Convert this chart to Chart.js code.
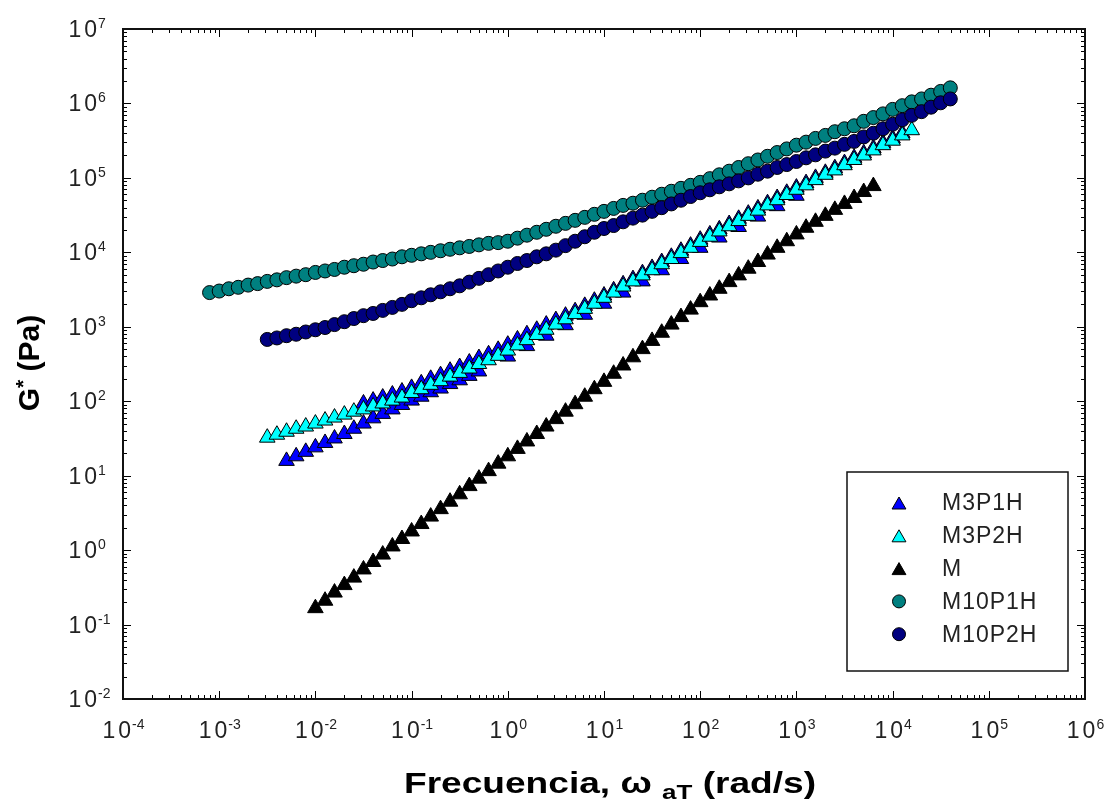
<!DOCTYPE html>
<html>
<head>
<meta charset="utf-8">
<script src="https://cdn.jsdelivr.net/npm/chart.js@4.4.1/dist/chart.umd.min.js"></script>
<style>
  html, body { margin: 0; padding: 0; background: #ffffff; }
  #wrap { width: 1106px; height: 802px; position: relative; }
  canvas { display: block; }
</style>
</head>
<body>
<div id="wrap"><canvas id="c" width="1106" height="802"></canvas></div>
<script>
// ---------------- DATA ----------------
const seriesNames = ['M3P1H', 'M3P2H', 'M', 'M10P1H', 'M10P2H'];
const xTickValues = [1e-4, 1e-3, 1e-2, 1e-1, 1e0, 1e1, 1e2, 1e3, 1e4, 1e5, 1e6];
const yTickValues = [1e-2, 1e-1, 1e0, 1e1, 1e2, 1e3, 1e4, 1e5, 1e6, 1e7];
const xAxisTitle = ['Frecuencia, ', '\u03C9', ' ', 'aT', ' (rad/s)'];
const yAxisTitle = ['G', '*', ' (Pa)'];

// M3P1H (overlapping shifted segments)
const freq_M3P1H = [
  5.01e-3, 6.31e-3, 7.94e-3, 1.00e-2, 1.26e-2, 1.58e-2, 2.00e-2, 2.51e-2, 3.16e-2, 3.98e-2,
  5.01e-2, 6.31e-2, 7.94e-2, 0.100, 0.126, 0.158, 0.200, 0.251, 0.316, 0.398, 0.501,
  3.16e-2, 3.98e-2, 5.01e-2, 6.31e-2, 7.94e-2,
  0.100, 0.126, 0.158, 0.200, 0.251, 0.316, 0.398, 0.501, 0.631, 0.794,
  1.00, 1.26, 1.58, 2.00, 2.51, 3.16, 3.98, 5.01, 6.31, 7.94,
  10.0, 12.6, 15.8, 20.0, 25.1, 31.6, 39.8, 50.1, 63.1, 79.4,
  100, 126, 158, 200, 251, 316, 398, 501, 631, 794,
  1000, 1260, 1580, 2000, 2510, 3160, 3980, 5010, 6310, 7940,
  10000, 12600,
  1.00, 1.58, 2.51, 3.98, 6.31, 10.0, 15.8, 25.1, 39.8, 63.1,
  100, 158, 251, 398, 631, 1000
];
const gstar_M3P1H = [
  15.8, 18.2, 20.9, 24.0, 27.5, 31.6, 36.3, 42.7, 50.1, 58.9,
  67.6, 77.6, 89.1, 102, 115, 132, 148, 170, 191, 219, 251,
  93.3, 102, 112, 123, 135,
  151, 174, 200, 224, 257, 288, 331, 380, 427, 490,
  575, 676, 794, 912, 1070, 1230, 1410, 1620, 1910, 2240,
  2630, 3090, 3720, 4370, 5250, 6170, 7410, 8710, 10500, 12300,
  14800, 17400, 20400, 24000, 28200, 33100, 38900, 45700, 53700, 63100,
  74100, 85100, 1.00e5, 1.17e5, 1.35e5, 1.58e5, 1.86e5, 2.14e5, 2.51e5, 2.95e5,
  3.39e5, 3.98e5,
  398, 550, 759, 1050, 1450, 2040, 2880, 4070, 5750, 8130,
  11500, 15800, 21900, 30200, 41700, 57500
];

// M3P2H
const freq_M3P2H = [
  3.16e-3, 3.98e-3, 5.01e-3, 6.31e-3, 7.94e-3,
  1.00e-2, 1.26e-2, 1.58e-2, 2.00e-2, 2.51e-2, 3.16e-2, 3.98e-2, 5.01e-2, 6.31e-2, 7.94e-2,
  0.100, 0.126, 0.158, 0.200, 0.251, 0.316, 0.398, 0.501, 0.631, 0.794,
  1.00, 1.26, 1.58, 2.00, 2.51, 3.16, 3.98, 5.01, 6.31, 7.94,
  10.0, 12.6, 15.8, 20.0, 25.1, 31.6, 39.8, 50.1, 63.1, 79.4,
  100, 126, 158, 200, 251, 316, 398, 501, 631, 794,
  1000, 1260, 1580, 2000, 2510, 3160, 3980, 5010, 6310, 7940,
  10000, 12600, 15800
];
const gstar_M3P2H = [
  32.4, 35.5, 38.9, 42.7, 45.7,
  50.1, 55.0, 60.3, 66.1, 72.4, 77.6, 85.1, 93.3, 102, 112,
  129, 145, 166, 186, 214, 240, 275, 316, 355, 407,
  479, 562, 661, 776, 912, 1070, 1260, 1480, 1740, 2040,
  2450, 2880, 3470, 4070, 4900, 5750, 6920, 8130, 9770, 11500,
  13800, 16200, 19100, 22400, 26300, 30900, 36300, 42700, 50100, 58900,
  69200, 79400, 93300, 1.10e5, 1.26e5, 1.48e5, 1.74e5, 2.00e5, 2.34e5, 2.75e5,
  3.16e5, 3.72e5, 4.37e5
];

// M
const freq_M = [
  1.00e-2, 1.26e-2, 1.58e-2, 2.00e-2, 2.51e-2, 3.16e-2, 3.98e-2, 5.01e-2, 6.31e-2, 7.94e-2,
  0.100, 0.126, 0.158, 0.200, 0.251, 0.316, 0.398, 0.501, 0.631, 0.794,
  1.00, 1.26, 1.58, 2.00, 2.51, 3.16, 3.98, 5.01, 6.31, 7.94,
  10.0, 12.6, 15.8, 20.0, 25.1, 31.6, 39.8, 50.1, 63.1, 79.4,
  100, 126, 158, 200, 251, 316, 398, 501, 631, 794,
  1000, 1260, 1580, 2000, 2510, 3160, 3980, 5010, 6310
];
const gstar_M = [
  0.166, 0.209, 0.269, 0.339, 0.427, 0.550, 0.692, 0.871, 1.12, 1.41,
  1.78, 2.24, 2.82, 3.55, 4.47, 5.62, 7.24, 9.12, 11.5, 14.5,
  18.2, 22.9, 28.8, 36.3, 45.7, 57.5, 72.4, 91.2, 115, 145,
  182, 234, 302, 389, 501, 646, 832, 1070, 1350, 1700,
  2140, 2630, 3240, 3980, 4900, 6030, 7410, 9330, 11500, 14100,
  17400, 21400, 25700, 30900, 37200, 44700, 53700, 64600, 77600
];

// M10P1H
const freq_M10P1H = [
  7.94e-4,
  1.00e-3, 1.26e-3, 1.58e-3, 2.00e-3, 2.51e-3, 3.16e-3, 3.98e-3, 5.01e-3, 6.31e-3, 7.94e-3,
  1.00e-2, 1.26e-2, 1.58e-2, 2.00e-2, 2.51e-2, 3.16e-2, 3.98e-2, 5.01e-2, 6.31e-2, 7.94e-2,
  0.100, 0.126, 0.158, 0.200, 0.251, 0.316, 0.398, 0.501, 0.631, 0.794,
  1.00, 1.26, 1.58, 2.00, 2.51, 3.16, 3.98, 5.01, 6.31, 7.94,
  10.0, 12.6, 15.8, 20.0, 25.1, 31.6, 39.8, 50.1, 63.1, 79.4,
  100, 126, 158, 200, 251, 316, 398, 501, 631, 794,
  1000, 1260, 1580, 2000, 2510, 3160, 3980, 5010, 6310, 7940,
  10000, 12600, 15800, 20000, 25100, 31600, 39800
];
const gstar_M10P1H = [
  2880,
  3020, 3240, 3390, 3630, 3800, 4070, 4270, 4570, 4790, 5010,
  5370, 5620, 5890, 6310, 6610, 6920, 7410, 7760, 8130, 8710,
  9120, 9550, 10000, 10500, 11000, 11500, 12000, 12600, 13200, 13500,
  14100, 15500, 17000, 18600, 20400, 22400, 24500, 26900, 29500, 32400,
  35500, 38900, 42700, 45700, 50100, 55000, 60300, 66100, 72400, 79400,
  87100, 97700, 1.10e5, 1.23e5, 1.38e5, 1.55e5, 1.74e5, 1.95e5, 2.19e5, 2.45e5,
  2.75e5, 3.02e5, 3.39e5, 3.72e5, 4.17e5, 4.57e5, 5.01e5, 5.75e5, 6.46e5, 7.24e5,
  8.32e5, 9.33e5, 1.05e6, 1.15e6, 1.29e6, 1.45e6, 1.62e6
];

// M10P2H
const freq_M10P2H = [
  3.16e-3, 3.98e-3, 5.01e-3, 6.31e-3, 7.94e-3,
  1.00e-2, 1.26e-2, 1.58e-2, 2.00e-2, 2.51e-2, 3.16e-2, 3.98e-2, 5.01e-2, 6.31e-2, 7.94e-2,
  0.100, 0.126, 0.158, 0.200, 0.251, 0.316, 0.398, 0.501, 0.631, 0.794,
  1.00, 1.26, 1.58, 2.00, 2.51, 3.16, 3.98, 5.01, 6.31, 7.94,
  10.0, 12.6, 15.8, 20.0, 25.1, 31.6, 39.8, 50.1, 63.1, 79.4,
  100, 126, 158, 200, 251, 316, 398, 501, 631, 794,
  1000, 1260, 1580, 2000, 2510, 3160, 3980, 5010, 6310, 7940,
  10000, 12600, 15800, 20000, 25100, 31600, 39800
];
const gstar_M10P2H = [
  676, 708, 759, 794, 851,
  912, 977, 1070, 1170, 1290, 1410, 1510, 1660, 1820, 2000,
  2240, 2450, 2690, 2950, 3240, 3550, 3980, 4470, 5010, 5620,
  6310, 7080, 7760, 8710, 9550, 10700, 12300, 14100, 16200, 18600,
  20900, 22900, 25700, 28800, 31600, 35500, 39800, 44700, 50100, 56200,
  63100, 69200, 75900, 83200, 91200, 1.00e5, 1.12e5, 1.23e5, 1.38e5, 1.51e5,
  1.66e5, 1.86e5, 2.04e5, 2.29e5, 2.51e5, 2.82e5, 3.09e5, 3.55e5, 3.98e5, 4.57e5,
  5.25e5, 6.03e5, 6.92e5, 7.76e5, 8.91e5, 1.02e6, 1.15e6
];

// ---------------- STYLE ----------------
const FONT = "'Liberation Sans', Arial, sans-serif";
const TEXT_COLOR = '#222222';
const TRI_R = 9, CIRC_R = 7;

function toPoints(xs, ys) { return xs.map((x, i) => ({ x: x, y: ys[i] })); }

function makeSet(label, xs, ys, style, color, radius, order) {
  return {
    label: label,
    data: toPoints(xs, ys),
    pointStyle: style,
    pointRadius: radius,
    pointHoverRadius: radius,
    pointBackgroundColor: color,
    pointBorderColor: '#000000',
    pointBorderWidth: 1,
    backgroundColor: color,
    borderColor: '#000000',
    showLine: false,
    order: order
  };
}

const datasets = [
  makeSet(seriesNames[0], freq_M3P1H, gstar_M3P1H, 'triangle', '#0000ff', TRI_R, 5),
  makeSet(seriesNames[1], freq_M3P2H, gstar_M3P2H, 'triangle', '#00ffff', TRI_R, 4),
  makeSet(seriesNames[2], freq_M, gstar_M, 'triangle', '#000000', TRI_R, 3),
  makeSet(seriesNames[3], freq_M10P1H, gstar_M10P1H, 'circle', '#008080', CIRC_R, 2),
  makeSet(seriesNames[4], freq_M10P2H, gstar_M10P2H, 'circle', '#000080', CIRC_R, 1)
];

// ------------- helpers to draw text -------------
function drawPower(ctx, exp, anchorX, anchorY, mode) {
  const base = '10';
  const sup = String(exp);
  ctx.letterSpacing = '0px';
  ctx.font = '23px ' + FONT;
  const wb = ctx.measureText(base).width + 3;
  ctx.font = '14px ' + FONT;
  const ws = ctx.measureText(sup).width;
  let x0;
  if (mode === 'y') { x0 = anchorX - wb; }
  else { x0 = anchorX - (wb + ws) / 2; }
  ctx.fillStyle = TEXT_COLOR;
  ctx.textBaseline = 'alphabetic';
  ctx.textAlign = 'left';
  ctx.font = '23px ' + FONT;
  ctx.letterSpacing = '3px';
  ctx.fillText(base, x0, anchorY + 8);
  ctx.letterSpacing = '0px';
  ctx.font = '14px ' + FONT;
  ctx.fillText(sup, x0 + wb + 1, anchorY - 1);
}

function drawMarker(ctx, style, x, y, r, fill) {
  ctx.beginPath();
  if (style === 'triangle') {
    const s = Math.sin(Math.PI / 3) * r;
    ctx.moveTo(x, y - r);
    ctx.lineTo(x + s, y + r / 2);
    ctx.lineTo(x - s, y + r / 2);
    ctx.closePath();
  } else {
    ctx.arc(x, y, r, 0, Math.PI * 2);
  }
  ctx.fillStyle = fill;
  ctx.fill();
  ctx.lineWidth = 1;
  ctx.strokeStyle = '#000';
  ctx.stroke();
}

function drawStretched(ctx, parts, cx, baseline, targetW) {
  let total = 0;
  parts.forEach(p => { ctx.font = p[1]; total += ctx.measureText(p[0]).width; });
  const sx = targetW ? targetW / total : 1;
  ctx.save();
  ctx.translate(cx - total * sx / 2, baseline);
  ctx.scale(sx, 1);
  let x = 0;
  parts.forEach(p => { ctx.font = p[1]; ctx.fillText(p[0], x, p[2]); x += ctx.measureText(p[0]).width; });
  ctx.restore();
}

const framePlugin = {
  id: 'frame',
  afterDraw(chart) {
    const ctx = chart.ctx;
    const xs = chart.scales.x, ys = chart.scales.y;
    const { left, right, top, bottom } = chart.chartArea;
    ctx.save();

    // tick marks (inward, on all four sides)
    ctx.strokeStyle = '#000';
    ctx.lineWidth = 1;
    ctx.beginPath();
    const xVals = [];
    xTickValues.forEach((v, i) => {
      xVals.push([v, 8]);
      if (i < xTickValues.length - 1) for (let m = 2; m <= 9; m++) xVals.push([v * m, 4]);
    });
    xVals.forEach(([v, len]) => {
      const px = Math.round(xs.getPixelForValue(v)) + 0.5;
      ctx.moveTo(px, bottom); ctx.lineTo(px, bottom - len);
      ctx.moveTo(px, top); ctx.lineTo(px, top + len);
    });
    const yVals = [];
    yTickValues.forEach((v, i) => {
      yVals.push([v, 8]);
      if (i < yTickValues.length - 1) for (let m = 2; m <= 9; m++) yVals.push([v * m, 4]);
    });
    yVals.forEach(([v, len]) => {
      const py = Math.round(ys.getPixelForValue(v)) + 0.5;
      ctx.moveTo(left, py); ctx.lineTo(left + len, py);
      ctx.moveTo(right, py); ctx.lineTo(right - len, py);
    });
    ctx.stroke();

    // frame
    ctx.lineWidth = 2;
    ctx.strokeStyle = '#111';
    ctx.strokeRect(left, top, right - left, bottom - top);

    // tick labels
    yTickValues.forEach(v => {
      drawPower(ctx, Math.round(Math.log10(v)), 97, ys.getPixelForValue(v), 'y');
    });
    xTickValues.forEach(v => {
      drawPower(ctx, Math.round(Math.log10(v)), xs.getPixelForValue(v), 730, 'x');
    });

    // x axis title
    ctx.fillStyle = '#000';
    ctx.textBaseline = 'alphabetic';
    ctx.textAlign = 'left';
    const big = 'bold 30px ' + FONT, small = 'bold 21px ' + FONT;
    drawStretched(ctx, [
      [xAxisTitle[0], big, 0], [xAxisTitle[1], big, 0], [xAxisTitle[2], big, 0],
      [xAxisTitle[3], small, 6], [xAxisTitle[4], big, 0]
    ], 610, 793, 412);

    // y axis title
    ctx.save();
    ctx.translate(39, 363);
    ctx.rotate(-Math.PI / 2);
    drawStretched(ctx, [[yAxisTitle[0], big, 0], [yAxisTitle[1], small, -9], [yAxisTitle[2], big, 0]], 0, 0, 0);
    ctx.restore();

    // legend
    const lx = 847, ly = 472, lw = 221, lh = 199;
    ctx.fillStyle = '#fff';
    ctx.fillRect(lx, ly, lw, lh);
    ctx.lineWidth = 1.5;
    ctx.strokeStyle = '#111';
    ctx.strokeRect(lx, ly, lw, lh);
    chart.data.datasets.forEach((ds, i) => {
      const rowY = 503 + i * 32.8;
      const tri = ds.pointStyle === 'triangle';
      drawMarker(ctx, ds.pointStyle, 899, rowY + (tri ? 2 : 0), tri ? 8 : 6.5, ds.pointBackgroundColor);
      ctx.fillStyle = TEXT_COLOR;
      ctx.font = '23px ' + FONT;
      ctx.textBaseline = 'middle';
      ctx.letterSpacing = '1px';
      ctx.fillText(ds.label, 942, rowY + 1);
      ctx.letterSpacing = '0px';
    });
    ctx.restore();
  }
};

new Chart(document.getElementById('c').getContext('2d'), {
  type: 'scatter',
  data: { datasets: datasets },
  options: {
    responsive: false,
    animation: false,
    devicePixelRatio: 1,
    layout: { padding: { left: 123, top: 29, right: 21, bottom: 103 } },
    plugins: { legend: { display: false }, tooltip: { enabled: false } },
    scales: {
      x: { type: 'logarithmic', min: 1e-4, max: 1e6, display: false },
      y: { type: 'logarithmic', min: 1e-2, max: 1e7, display: false }
    }
  },
  plugins: [framePlugin]
});
</script>
</body>
</html>
